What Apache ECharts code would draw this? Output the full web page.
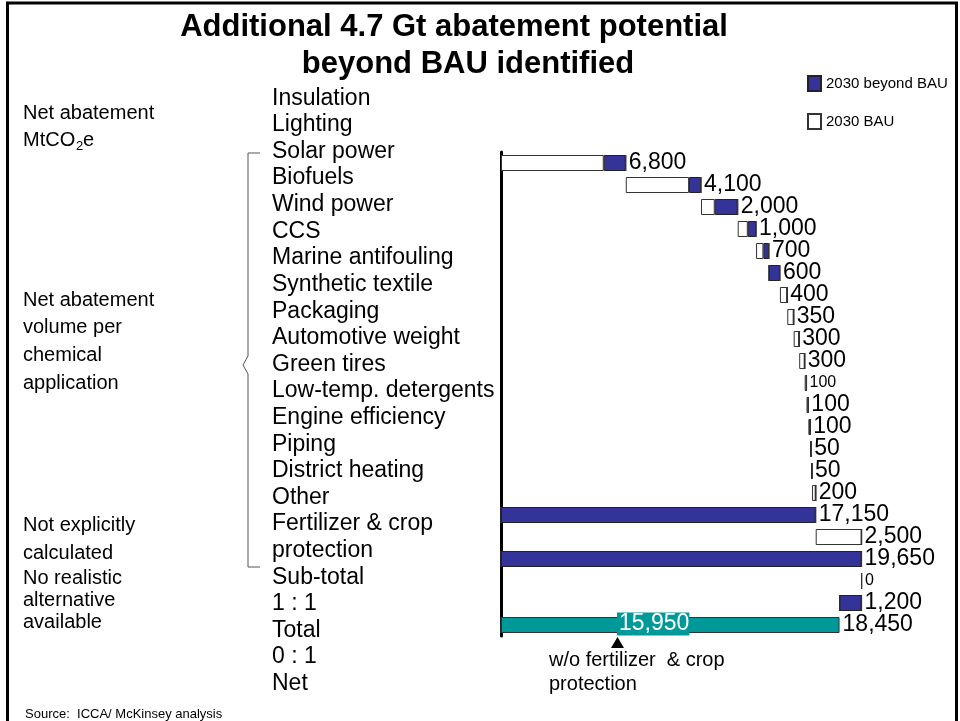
<!DOCTYPE html>
<html>
<head>
<meta charset="utf-8">
<script src="https://cdn.jsdelivr.net/npm/echarts@6/dist/echarts.min.js"></script>
<style>
html, body { margin: 0; padding: 0; background: #fff; }
#chart { width: 960px; height: 721px; }
</style>
</head>
<body>
<div id="chart"></div>
<script>
// waterfall rows, top to bottom (MtCO2e)
const rowNames = ['Insulation', 'Lighting', 'Solar power', 'Biofuels', 'Wind power', 'CCS',
  'Marine antifouling', 'Synthetic textile', 'Packaging', 'Automotive weight', 'Green tires',
  'Low-temp. detergents', 'Engine efficiency', 'Piping', 'District heating', 'Other',
  'Sub-total', 'Fertilizer & crop protection', 'Total', '1 : 1', '0 : 1', 'Net']
// step = adds to running level, total = bar from zero, down = takes off running level
const rowKind = ['step', 'step', 'step', 'step', 'step', 'step', 'step', 'step', 'step', 'step',
  'step', 'step', 'step', 'step', 'step', 'step', 'total', 'step', 'total', 'step', 'down', 'total']
// 2030 BAU part (white)
const bauPart = [5600, 3450, 750, 550, 400, 0, 400, 350, 300, 300, 100, 100, 100, 50, 50, 200,
  0, 2500, 0, 0, 0, 0]
// 2030 beyond BAU part (blue)
const beyondPart = [1200, 650, 1250, 450, 300, 600, 0, 0, 0, 0, 0, 0, 0, 0, 0, 0,
  17150, 0, 19650, 0, 1200, 0]
// net total (teal)
const netPart = [0, 0, 0, 0, 0, 0, 0, 0, 0, 0, 0, 0, 0, 0, 0, 0, 0, 0, 0, 0, 0, 18450]
// rows whose value label is printed smaller
const smallLabelRows = [10, 19]
// text column left of the bars
const sideLabels = ['Insulation', 'Lighting', 'Solar power', 'Biofuels', 'Wind power', 'CCS',
  'Marine antifouling', 'Synthetic textile', 'Packaging', 'Automotive weight', 'Green tires',
  'Low-temp. detergents', 'Engine efficiency', 'Piping', 'District heating', 'Other',
  'Fertilizer & crop', 'protection', 'Sub-total', '1 : 1', 'Total', '0 : 1', 'Net']

const FONT = 'Liberation Sans, Arial, sans-serif'

let level = 0
const basePart = rowKind.map((kind, i) => {
  const size = bauPart[i] + beyondPart[i] + netPart[i]
  if (kind === 'total') { level = size; return 0 }
  if (kind === 'down') { level -= size; return level }
  const b = level
  level += size
  return b
})

const fmt = v => v.toLocaleString('en-US')

// label goes on the right-most segment of each row
function withLabels(values, key) {
  return values.map((v, i) => {
    const size = bauPart[i] + beyondPart[i] + netPart[i]
    let last = 'bau'
    if (beyondPart[i]) last = 'beyond'
    if (netPart[i]) last = 'net'
    if (last !== key) return v
    return {
      value: v,
      label: {
        show: true,
        position: 'right',
        distance: 3,
        formatter: fmt(size),
        color: '#000',
        fontFamily: FONT,
        fontSize: smallLabelRows.includes(i) ? 16 : 23
      }
    }
  })
}

const withoutFertilizer = netPart[21] - bauPart[17]

const chart = echarts.init(document.getElementById('chart'))

function txt(text, x, y, size, extra) {
  return {
    type: 'text',
    x: x,
    y: y,
    z: 100,
    silent: true,
    style: Object.assign({
      text: text,
      fill: '#000',
      font: size + 'px ' + FONT,
      textVerticalAlign: 'middle'
    }, extra || {})
  }
}

chart.setOption({
  animation: false,
  backgroundColor: '#fff',
  legend: {
    orient: 'vertical',
    left: 802,
    top: 70,
    icon: 'rect',
    itemWidth: 13,
    itemHeight: 15,
    itemGap: 21,
    selectedMode: false,
    data: ['2030 beyond BAU', '2030 BAU'],
    textStyle: { color: '#000', fontSize: 15, fontFamily: FONT }
  },
  grid: [
    { left: 501, top: 152, width: 367, height: 484 },
    { left: 272, top: 85, width: 100, height: 612 }
  ],
  xAxis: [
    { type: 'value', min: 0, max: 20000, show: false, gridIndex: 0 },
    { type: 'value', min: 0, max: 1, show: false, gridIndex: 1 }
  ],
  yAxis: [
    {
      type: 'category',
      gridIndex: 0,
      data: rowNames,
      inverse: true,
      axisLine: { show: true, lineStyle: { color: '#000', width: 3 } },
      axisTick: { show: false },
      axisLabel: { show: false },
      splitLine: { show: false }
    },
    {
      type: 'category',
      gridIndex: 1,
      data: sideLabels,
      inverse: true,
      axisLine: { show: false },
      axisTick: { show: false },
      splitLine: { show: false },
      axisLabel: {
        inside: true,
        interval: 0,
        margin: 0,
        align: 'left',
        color: '#000',
        fontSize: 23,
        fontFamily: FONT
      }
    }
  ],
  series: [
    {
      name: 'base',
      type: 'bar',
      stack: 'w',
      barWidth: 16,
      silent: true,
      itemStyle: { color: 'transparent' },
      data: basePart
    },
    {
      name: '2030 BAU',
      type: 'bar',
      stack: 'w',
      barWidth: 16,
      itemStyle: { color: '#fff', borderColor: '#333', borderWidth: 1 },
      data: withLabels(bauPart, 'bau')
    },
    {
      name: '2030 beyond BAU',
      type: 'bar',
      stack: 'w',
      barWidth: 16,
      itemStyle: { color: '#333399', borderColor: '#222', borderWidth: 1 },
      data: withLabels(beyondPart, 'beyond')
    },
    {
      name: 'Net',
      type: 'bar',
      stack: 'w',
      barWidth: 16,
      itemStyle: { color: '#009999', borderColor: '#333', borderWidth: 1 },
      data: withLabels(netPart, 'net')
    }
  ],
  graphic: [
    // frame
    { type: 'rect', silent: true, shape: { x: 7.5, y: 3, width: 949, height: 740 },
      style: { fill: 'none', stroke: '#000', lineWidth: 3 } },
    // title
    txt('Additional 4.7 Gt abatement potential', 454, 27, 31,
      { font: 'bold 31px ' + FONT, textAlign: 'center' }),
    txt('beyond BAU identified', 468, 64, 31,
      { font: 'bold 31px ' + FONT, textAlign: 'center' }),
    // left group captions
    txt('Net abatement', 23, 113, 20),
    txt('MtCO', 23, 140, 20),
    txt('2', 76, 146, 13),
    txt('e', 83, 140, 20),
    txt('Net abatement', 23, 300, 20),
    txt('volume per', 23, 327, 20),
    txt('chemical', 23, 355, 20),
    txt('application', 23, 383, 20),
    txt('Not explicitly', 23, 525, 20),
    txt('calculated', 23, 553, 20),
    txt('No realistic', 23, 578, 20),
    txt('alternative', 23, 600, 20),
    txt('available', 23, 622, 20),
    // bracket
    { type: 'polyline', silent: true,
      shape: { points: [[260, 153], [248, 153], [248, 356], [243, 365], [248, 374], [248, 567], [260, 567]] },
      style: { fill: 'none', stroke: '#555', lineWidth: 1 } },
    // annotation under net bar
    txt(fmt(withoutFertilizer), 617, 624, 23,
      { fill: '#fff', backgroundColor: '#009999', padding: [0, 0, 0, 2] }),
    { type: 'polygon', silent: true, z: 100,
      shape: { points: [[617.5, 637], [611, 648], [624, 648]] },
      style: { fill: '#000' } },
    txt('w/o fertilizer  & crop', 549, 660, 20),
    txt('protection', 549, 684, 20),
    // source
    txt('Source:  ICCA/ McKinsey analysis', 25, 714, 13)
  ]
})
</script>
</body>
</html>
